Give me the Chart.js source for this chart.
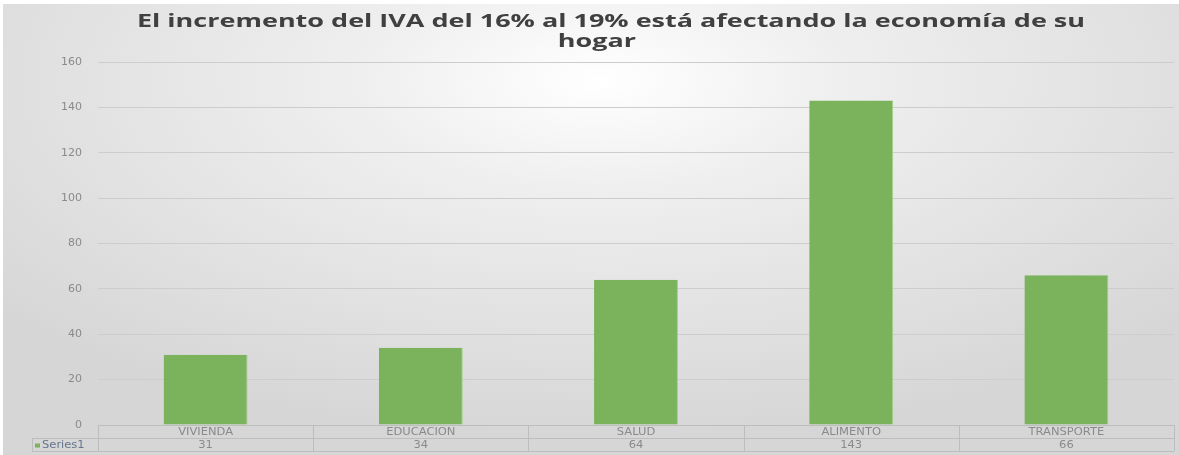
<!DOCTYPE html>
<html>
<head>
<meta charset="utf-8">
<script src="https://cdn.jsdelivr.net/npm/chart.js@4"></script>
<style>
  html, body { margin: 0; padding: 0; background: #fff; }
  #wrap { width: 1179px; height: 455px; }
</style>
</head>
<body>
<div id="wrap"><canvas id="grafico" width="1179" height="455"></canvas></div>
<script>
// datos
var categorias = ["VIVIENDA", "EDUCACION", "SALUD", "ALIMENTO", "TRANSPORTE"];
var serie1 = [31, 34, 64, 143, 66];
var nombreSerie = "Series1";
var tituloLineas = ["El incremento del IVA del 16% al 19% está afectando la economía de su", "hogar"];
var ejeY = { min: 0, max: 160, paso: 20 };

var verde = "#7ab35c";
var gris = "#8a8a8a";

// texto estirado a lo ancho (la imagen original esta ensanchada)
function textoAncho(ctx, txt, x, y, sx) {
  ctx.save();
  ctx.translate(x, y);
  ctx.scale(sx, 1);
  ctx.fillText(txt, 0, 0);
  ctx.restore();
}

// fondo con degradado (tipo excel)
var fondo = {
  id: 'fondo',
  beforeDraw: function(chart) {
    var ctx = chart.ctx, w = chart.width, h = chart.height;
    ctx.save();
    ctx.fillStyle = "#ffffff";
    ctx.fillRect(0, 0, w, h);
    ctx.beginPath();
    ctx.rect(3, 4, w - 3, h - 4);
    ctx.clip();
    ctx.translate(600, 80);
    ctx.scale(2.2, 1);
    var g = ctx.createRadialGradient(0, 0, 0, 0, 0, 360);
    g.addColorStop(0, "#ffffff");
    g.addColorStop(0.3, "#efefef");
    g.addColorStop(1, "#d6d6d6");
    ctx.fillStyle = g;
    ctx.fillRect(-300, -100, 600, 500);
    ctx.restore();
  }
};

// titulo en dos lineas
var titulo = {
  id: 'titulo',
  afterDraw: function(chart) {
    var ctx = chart.ctx;
    ctx.save();
    ctx.fillStyle = "#404040";
    ctx.font = "bold 17px 'Open Sans'";
    ctx.textAlign = "center";
    ctx.textBaseline = "alphabetic";
    var sx = 948 / ctx.measureText(tituloLineas[0]).width;
    textoAncho(ctx, tituloLineas[0], 611, 27, sx);
    textoAncho(ctx, tituloLineas[1], 597, 47, sx);
    ctx.restore();
  }
};

// tabla de datos debajo del grafico
var tabla = {
  id: 'tabla',
  afterDraw: function(chart) {
    var ctx = chart.ctx, x = chart.scales.x, area = chart.chartArea;
    var n = categorias.length;
    var ancho = (area.right - area.left) / n;
    var y0 = area.bottom, y1 = y0 + 13, y2 = y1 + 13;
    var izq = 32;
    ctx.save();
    ctx.strokeStyle = "#bdbdbd";
    ctx.lineWidth = 1;
    ctx.beginPath();
    ctx.moveTo(area.left, y0 + 0.5); ctx.lineTo(area.right, y0 + 0.5);
    ctx.moveTo(izq, y1 + 0.5); ctx.lineTo(area.right, y1 + 0.5);
    ctx.moveTo(izq, y2 + 0.5); ctx.lineTo(area.right, y2 + 0.5);
    ctx.moveTo(izq + 0.5, y1); ctx.lineTo(izq + 0.5, y2);
    for (var i = 0; i <= n; i++) {
      var px = Math.round(area.left + i * ancho) + 0.5;
      ctx.moveTo(px, y0); ctx.lineTo(px, y2);
    }
    ctx.stroke();

    ctx.fillStyle = gris;
    ctx.font = "10px 'DejaVu Sans'";
    ctx.textAlign = "center";
    ctx.textBaseline = "middle";
    for (var j = 0; j < n; j++) {
      var cx = x.getPixelForValue(j);
      textoAncho(ctx, categorias[j], cx, (y0 + y1) / 2 + 1, 1.15);
      textoAncho(ctx, String(serie1[j]), cx, (y1 + y2) / 2 + 1, 1.15);
    }
    ctx.fillStyle = verde;
    ctx.fillRect(izq + 3, (y1 + y2) / 2 - 1, 5, 4);
    ctx.fillStyle = "#66768f";
    ctx.textAlign = "left";
    textoAncho(ctx, nombreSerie, izq + 10, (y1 + y2) / 2 + 1, 1.15);
    ctx.restore();
  }
};

new Chart(document.getElementById("grafico"), {
  type: 'bar',
  data: {
    labels: categorias,
    datasets: [{
      label: nombreSerie,
      data: serie1,
      backgroundColor: verde,
      borderColor: "#a3d08a",
      borderWidth: { left: 0, right: 1, top: 0, bottom: 0 },
      barPercentage: 0.39,
      categoryPercentage: 1
    }]
  },
  options: {
    responsive: false,
    animation: false,
    layout: { padding: { left: 0, right: 5, top: 62, bottom: 30 } },
    plugins: {
      legend: { display: false },
      tooltip: { enabled: false },
      title: { display: false }
    },
    scales: {
      x: { display: false },
      y: {
        min: ejeY.min,
        max: ejeY.max,
        ticks: { stepSize: ejeY.paso, color: gris, padding: 16, font: { family: "'DejaVu Sans'", size: 11 } },
        grid: { color: "#cdcdcd", drawTicks: false },
        border: { display: false },
        afterFit: function(s) { s.width = 98; }
      }
    }
  },
  plugins: [fondo, titulo, tabla]
});
</script>
</body>
</html>
